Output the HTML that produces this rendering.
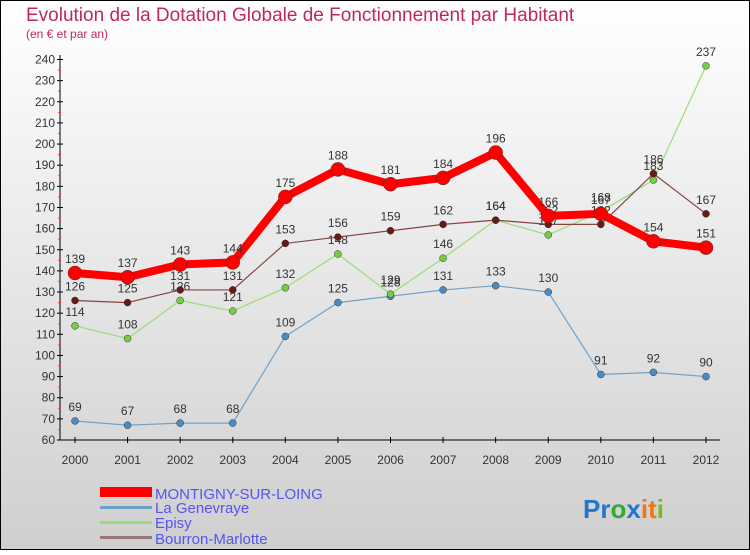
<!DOCTYPE html>
<html><head><meta charset="utf-8"><style>
body{margin:0}
#c{width:750px;height:550px;position:relative;font-family:"Liberation Sans",sans-serif}
</style></head><body>
<div id="c">
<svg id="s" width="750" height="550" xmlns="http://www.w3.org/2000/svg">
<defs><linearGradient id="bg" x1="0" y1="0" x2="0" y2="1"><stop offset="0" stop-color="#ffffff"/><stop offset="1" stop-color="#cfcfcf"/></linearGradient></defs>
<rect x="0.5" y="0.5" width="749" height="549" fill="url(#bg)" stroke="#000"/>
<text x="26" y="21" font-size="19" fill="#c0285a">Evolution de la Dotation Globale de Fonctionnement par Habitant</text>
<text x="26" y="38" font-size="12" fill="#c0285a">(en € et par an)</text>
<g id="axes"></g><g id="series"></g>
<g>
<rect x="100" y="487" width="52" height="10" fill="#f00"/>
<text x="155" y="499" font-size="15" fill="#5555ee">MONTIGNY-SUR-LOING</text>
<rect x="100" y="506" width="52" height="3" fill="#6fa0c8"/>
<text x="155" y="513" font-size="15" fill="#5555ee">La Genevraye</text>
<rect x="100" y="521" width="52" height="3" fill="#99dd77"/>
<text x="155" y="528" font-size="15" fill="#5555ee">Episy</text>
<rect x="100" y="536" width="52" height="3" fill="#997777"/>
<text x="155" y="544" font-size="15" fill="#5555ee">Bourron-Marlotte</text>
</g>
<text x="583" y="518" font-size="26" font-weight="bold"><tspan fill="#2277cc">Pr</tspan><tspan fill="#33aa33">o</tspan><tspan fill="#2277cc">x</tspan><tspan fill="#ee7711">i</tspan><tspan fill="#ee7711">t</tspan><tspan fill="#77bb22">i</tspan></text>
</svg>
</div>
<script>
const years=["2000","2001","2002","2003","2004","2005","2006","2007","2008","2009","2010","2011","2012"];
const montigny=[139,137,143,144,175,188,181,184,196,166,167,154,151];
const genevraye=[69,67,68,68,109,125,128,131,133,130,91,92,90];
const episy=[114,108,126,121,132,148,129,146,164,157,168,183,237];
const bourron=[126,125,131,131,153,156,159,162,164,162,162,186,167];
const yTicks=[60,70,80,90,100,110,120,130,140,150,160,170,180,190,200,210,220,230,240];
const NS="http://www.w3.org/2000/svg";
const x=i=>75+i*(706-75)/(years.length-1);
const y=v=>440-(v-60)*(440-59.5)/180;
function mk(t,a,p){const e=document.createElementNS(NS,t);for(const k in a)e.setAttribute(k,a[k]);p.appendChild(e);return e;}
const ax=document.getElementById('axes');
const a1=mk('line',{x1:60,y1:55,x2:60,y2:440,stroke:'#000'},ax);


const a2=mk('line',{x1:60,y1:440,x2:720,y2:440,stroke:'#000'},ax);


yTicks.forEach(v=>{
 mk('line',{x1:57,y1:y(v),x2:63,y2:y(v),stroke:'#000'},ax);
 if(v<240) mk('line',{x1:58,y1:y(v+5),x2:61,y2:y(v+5),stroke:'#f33'},ax);
 const t=mk('text',{x:55,y:y(v)+4,'font-size':12,'text-anchor':'end',fill:'#333'},ax);t.textContent=v;
 
 
});
years.forEach((yr,i)=>{
 mk('line',{x1:x(i),y1:437,x2:x(i),y2:443,stroke:'#000'},ax);
 const t=mk('text',{x:x(i),y:464,'font-size':12,'text-anchor':'middle',fill:'#333'},ax);t.textContent=yr;
 
 
});
const sg=document.getElementById('series');
function series(name,d,col,dot,w,r){
 const g=mk('g',{},sg);
 
 
 const p=mk('polyline',{points:d.map((v,i)=>x(i)+','+y(v)).join(' '),fill:'none',stroke:col,'stroke-width':w,'stroke-linejoin':'round'},g);
 
 
 d.forEach((v,i)=>{
  const c=mk('circle',{cx:x(i),cy:y(v),r:r,fill:dot,stroke:'#333','stroke-width':0.5},g);
  
  
  const t=mk('text',{x:x(i),y:y(v)-10,'font-size':12,'text-anchor':'middle',fill:'#333'},g);t.textContent=v;
  
  
 });
}
series('genevraye',genevraye,'#6fa0c8','#4a8bc4',1.2,3.5);
series('episy',episy,'#99dd77','#77cc44',1.2,3.5);
series('bourron',bourron,'#884444','#661a1a',1.2,3.5);
series('montigny',montigny,'#f00','#f00',8,7);
</script>
</body></html>
